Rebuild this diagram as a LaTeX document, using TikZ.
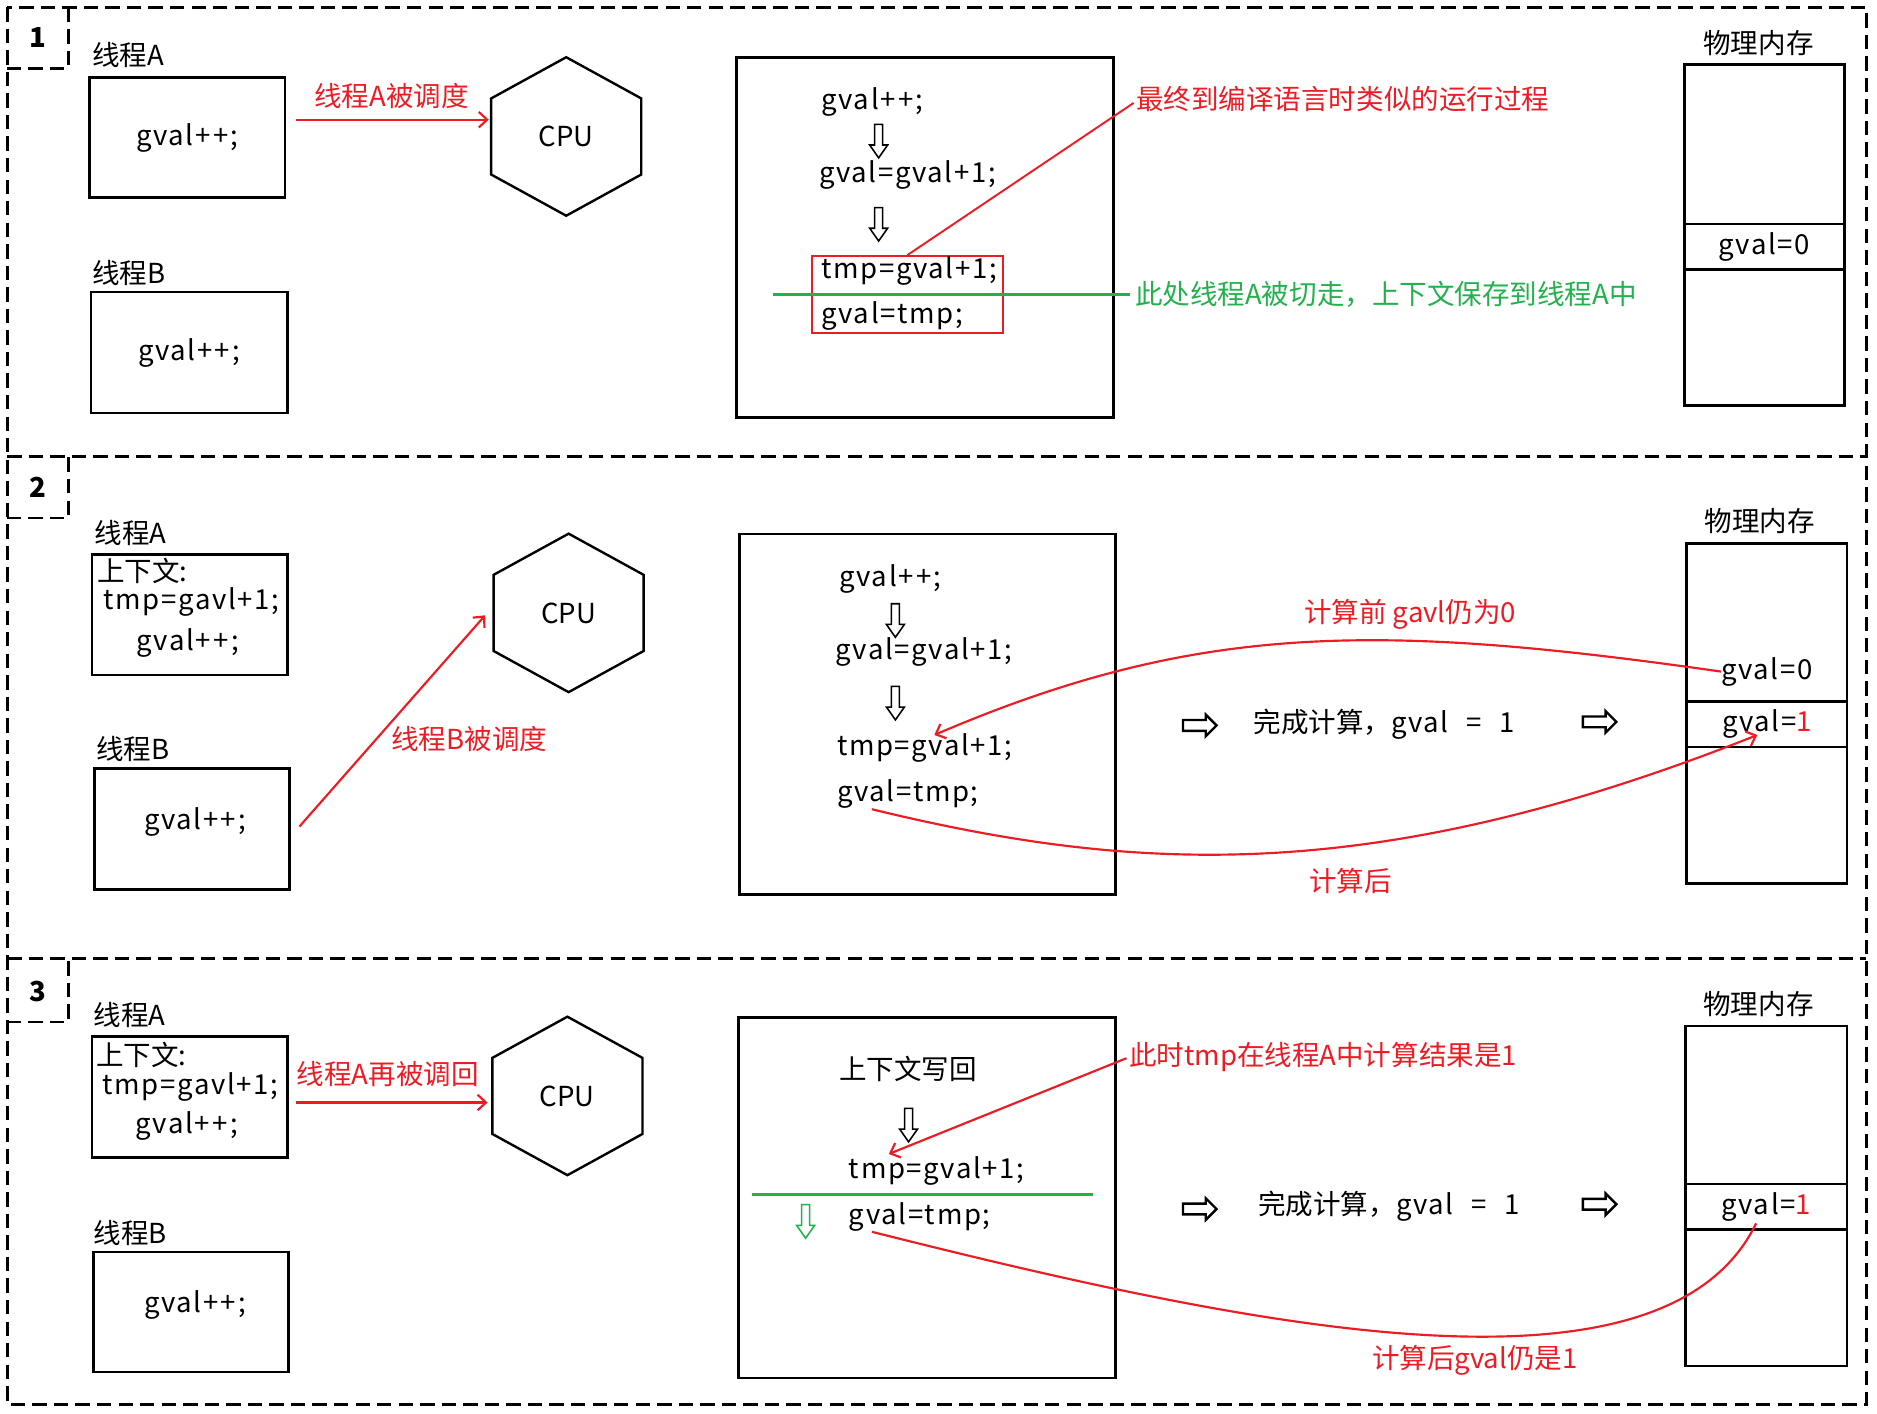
\documentclass[tikz,border=0pt]{standalone}
\usepackage{fontspec}
\setmainfont{Noto Sans CJK SC}
\usetikzlibrary{arrows.meta,shapes.arrows,calc}
\definecolor{pred}{RGB}{237,28,36}
\definecolor{pgreen}{RGB}{34,177,76}
\newcommand\hexdraw[1]{\draw[line width=2pt, line join=miter] (#1.north) -- ($(#1.north east)!0.26!(#1.south east)$) -- ($(#1.north east)!0.74!(#1.south east)$) -- (#1.south) -- ($(#1.north west)!0.74!(#1.south west)$) -- ($(#1.north west)!0.26!(#1.south west)$) -- cycle;}
\newcommand\cd[1]{{\addfontfeatures{LetterSpace=6}#1}}
\newcommand\pp{gval+\kern2pt+\kern2pt;}
\begin{document}
\begin{tikzpicture}[x=1pt,y=-1pt,
  every node/.style={font=\fontsize{23}{27}\selectfont, inner sep=0pt},
  frame/.style={draw, line width=2.4pt, dash pattern=on 12pt off 6pt},
  numbox/.style={minimum size=51pt, font=\fontsize{23}{27}\selectfont\bfseries},
  box/.style={draw, line width=2.2pt},
  rtxt/.style={text=pred},
  gtxt/.style={text=pgreen},
  rline/.style={draw=pred, line width=1.6pt},
  rarr/.style={draw=pred, line width=1.8pt, -{Straight Barb[length=7pt,width=13pt]}},
  gline/.style={draw=pgreen, line width=2pt},
  darrow/.style={single arrow, draw, line width=1.3pt, shape border rotate=270, minimum height=28pt, minimum width=15pt, inner sep=2.5pt, single arrow head extend=4pt, single arrow tip angle=70},
  rarrow/.style={single arrow, draw, line width=2pt, minimum height=28pt, minimum width=18pt, inner sep=3pt, single arrow head extend=4pt, single arrow tip angle=90},
  hexnode/.style={minimum width=125pt, minimum height=132pt},
]
\useasboundingbox (0,0) rectangle (1568,1181);

% frames
\draw[frame] (6,6) rectangle (1559,1173);
\draw[frame] (6,381) -- (1559,381);
\draw[frame] (6,801) -- (1559,801);
\node[numbox] (n1) at (31.5,31.5) {1};
\node[numbox] (n2) at (31.5,407) {2};
\node[numbox] (n3) at (31.5,828) {3};
\foreach \n in {n1,n2,n3}{\draw[frame] (\n.south west) -- (\n.south east) -- (\n.north east);}

%================ Section 1
\node[anchor=west] (la1) at (77,46) {线程A};
\node[box, minimum width=163pt, minimum height=100pt] (a1) at (156.5,115) {\cd{\pp}};
\node[anchor=west] (lb1) at (77,228) {线程B};
\node[box, minimum width=164pt, minimum height=101pt] (b1) at (158,294.5) {\cd{\pp}};
\node[hexnode] (cpu1) at (473,114) {CPU};
\hexdraw{cpu1}
\node[rtxt] (s1lab) at (327,80) {线程A被调度};
\draw[rarr] ([xshift=8pt,yshift=15pt]a1.east) -- ([xshift=-2pt,yshift=14pt]cpu1.west);

\node[box, minimum width=315pt, minimum height=301pt] (p1) at (772.5,198.5) {};
\node[anchor=west] (p1l1) at (686,85) {\cd{\pp}};
\node[darrow] (p1d1) at (734,115.5) {};
\node[anchor=west] (p1l2) at (684,146) {\cd{gval=gval+1;}};
\node[darrow] (p1d2) at (734,185) {};
\node[draw=pred, line width=1.8pt, minimum width=160pt, minimum height=64pt] (sel) at (758,246) {};
\node[anchor=west] (p1l3) at (686,226) {\cd{tmp=gval+1;}};
\node[anchor=west] (p1l4) at (686,264) {\cd{gval=tmp;}};
\node[rtxt, anchor=west] (lab1) at (949,83) {最终到编译语言时类似的运行过程};
\draw[rline] (sel.north) -- ([xshift=-2pt,yshift=-3pt]lab1.west);
\coordinate (g1s) at (646,246);
\node[gtxt, anchor=west] (lab2) at (948,246) {此处线程A被切走，上下文保存到线程A中};
\draw[gline] (g1s) -- ([xshift=-4pt]lab2.west);

\node (mem1t) at (1469,36) {物理内存};
\node[box, minimum width=134pt, minimum height=133pt] (m1a) at (1474,120.5) {};
\node[box, minimum width=134pt, minimum height=38pt] (m1b) at (1474,206) {\cd{gval=0}};
\node[box, minimum width=134pt, minimum height=114pt] (m1c) at (1474,282) {};

%================ Section 2
\node[anchor=west] (la2) at (79,445) {线程A};
\node[box, minimum width=163pt, minimum height=101pt] (a2) at (158.5,513.5) {};
\node[anchor=west] (a2l1) at (81,477) {上下文:};
\node (a2l2) at (160,503) {\cd{tmp=gavl+1;}};
\node (a2l3) at (157,537) {\cd{\pp}};
\node[anchor=west] (lb2) at (80,626) {线程B};
\node[box, minimum width=163pt, minimum height=101pt] (b2) at (160.5,692.5) {};
\node (b2l) at (163,687) {\cd{\pp}};
\node[hexnode] (cpu2) at (475,512) {CPU};
\hexdraw{cpu2}
\draw[rarr] ([xshift=7pt,yshift=2pt]b2.east) -- ([xshift=-7pt,yshift=-2pt]cpu2.west);
\node[rtxt] (s2lab) at (392,617) {线程B被调度};

\node[box, minimum width=314pt, minimum height=301pt] (p2) at (775,596.5) {};
\node[anchor=west] (p2l1) at (701,484) {\cd{\pp}};
\node[darrow] (p2d1) at (748,516) {};
\node[anchor=west] (p2l2) at (698,545) {\cd{gval=gval+1;}};
\node[darrow] (p2d2) at (748,585) {};
\node[anchor=west] (p2l3) at (699,625) {\cd{tmp=gval+1;}};
\node[anchor=west] (p2l4) at (699,663) {\cd{gval=tmp;}};

\node[rarrow] (r2a) at (1000,606) {};
\node[anchor=west] (c2) at (1047,605) {完成计算，\cd{gval}\hspace{15pt}=\hspace{15pt}1};
\node[rarrow] (r2b) at (1334,603) {};

\node (mem2t) at (1470,435) {物理内存};
\node[box, minimum width=134pt, minimum height=132pt] (m2a) at (1476,520) {};
\node[box, minimum width=134pt, minimum height=38pt] (m2b) at (1476,605) {\cd{gval={\color{pred}1}}};
\node[box, minimum width=134pt, minimum height=114pt] (m2c) at (1476,681) {};
\node (m2v) at (1476,561) {\cd{gval=0}};

\draw[rarr] (m2v.west) .. controls (1150,520) and (1000,520) .. ([xshift=8pt,yshift=11pt]p2l3.center);
\node[rtxt] (s2up) at (1178,513) {计算前 gavl仍为0};
\draw[rarr] ([xshift=-30pt,yshift=-13pt]p2l4.center) .. controls (950,730) and (1150,740) .. ([xshift=-8pt,yshift=-9pt]m2b.center);
\node[rtxt] (s2dn) at (1128,736) {计算后};

%================ Section 3
\node[anchor=west] (la3) at (78,848) {线程A};
\node[box, minimum width=163pt, minimum height=101pt] (a3) at (158.5,916.5) {};
\node[anchor=west] (a3l1) at (80,881) {上下文:};
\node (a3l2) at (159,908) {\cd{tmp=gavl+1;}};
\node (a3l3) at (156,941) {\cd{\pp}};
\node[anchor=west] (lb3) at (78,1030) {线程B};
\node[box, minimum width=163pt, minimum height=100pt] (b3) at (159.5,1096) {};
\node (b3l) at (163,1090) {\cd{\pp}};
\node[hexnode] (cpu3) at (474,915.5) {CPU};
\hexdraw{cpu3}
\node[rtxt] (s3lab) at (324,897) {线程A再被调回};
\draw[rarr] ([xshift=6pt,yshift=-4.5pt]a3.east) -- ([xshift=-4pt,yshift=-5.5pt]cpu3.west);

\node[box, minimum width=315pt, minimum height=301pt] (p3) at (774.5,1000.5) {};
\node[anchor=west] (p3l1) at (701,893) {上下文写回};
\node[darrow] (p3d1) at (759,937.5) {};
\node[anchor=west] (p3l2) at (709,978) {\cd{tmp=gval+1;}};
\coordinate (g3s) at (628,998);
\coordinate (g3e) at (913,998);
\draw[gline] (g3s) -- (g3e);
\node[darrow, draw=pgreen] (p3d2) at (673,1018) {};
\node[anchor=west] (p3l3) at (709,1017) {\cd{gval=tmp;}};

\node[rtxt, anchor=west] (lab3) at (943,883) {此时tmp在线程A中计算结果是1};
\draw[rarr] ([xshift=-2pt,yshift=-1pt]lab3.west) -- ([xshift=-40pt,yshift=14pt]p3l2.center);

\node[rarrow] (r3a) at (1000,1010) {};
\node[anchor=west] (c3) at (1051,1008) {完成计算，\cd{gval}\hspace{15pt}=\hspace{15pt}1};
\node[rarrow] (r3b) at (1334,1006) {};

\node (mem3t) at (1469,839) {物理内存};
\node[box, minimum width=135pt, minimum height=132pt] (m3a) at (1475.5,923) {};
\node[box, minimum width=135pt, minimum height=38pt] (m3b) at (1475.5,1008) {\cd{gval={\color{pred}1}}};
\node[box, minimum width=135pt, minimum height=114pt] (m3c) at (1475.5,1084) {};

\draw[rline, line width=1.8pt] ([xshift=-40pt,yshift=-12pt]p3l3.center) .. controls (1050,1110) and (1390,1180) .. ([xshift=-8.5pt,yshift=-14pt]m3b.center);
\node[rtxt] (s3dn) at (1232,1136) {计算后gval仍是1};

\end{tikzpicture}
\end{document}
